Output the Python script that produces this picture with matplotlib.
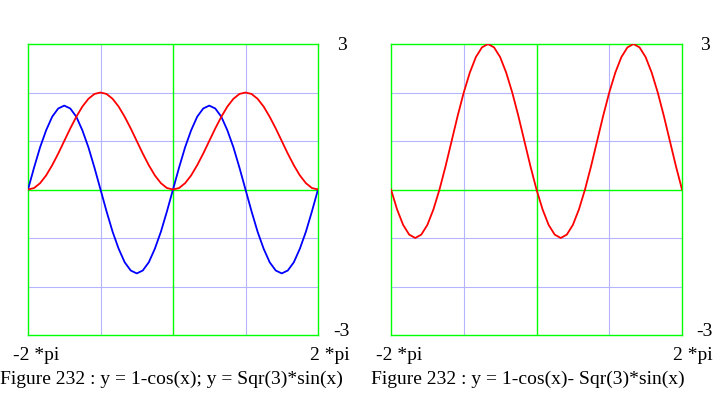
import numpy as np
import matplotlib
matplotlib.use("Agg")
import matplotlib.pyplot as plt

# x positions: -2pi .. 2pi, step pi/12
x_steps = np.arange(-24, 25) / 12.0

# 1-cos(x), values
y_red_left = [0, 0.03, 0.13, 0.29, 0.5, 0.74, 1, 1.26, 1.5, 1.71, 1.87, 1.97,
              2, 1.97, 1.87, 1.71, 1.5, 1.26, 1, 0.74, 0.5, 0.29, 0.13, 0.03,
              0, 0.03, 0.13, 0.29, 0.5, 0.74, 1, 1.26, 1.5, 1.71, 1.87, 1.97,
              2, 1.97, 1.87, 1.71, 1.5, 1.26, 1, 0.74, 0.5, 0.29, 0.13, 0.03, 0]
# Sqr(3)*sin(x)
y_blue_left = [0, 0.45, 0.87, 1.22, 1.5, 1.67, 1.73, 1.67, 1.5, 1.22, 0.87, 0.45,
               0, -0.45, -0.87, -1.22, -1.5, -1.67, -1.73, -1.67, -1.5, -1.22, -0.87, -0.45,
               0, 0.45, 0.87, 1.22, 1.5, 1.67, 1.73, 1.67, 1.5, 1.22, 0.87, 0.45,
               0, -0.45, -0.87, -1.22, -1.5, -1.67, -1.73, -1.67, -1.5, -1.22, -0.87, -0.45, 0]
# 1-cos(x) - Sqr(3)*sin(x)
y_red_right = [0, -0.41, -0.73, -0.93, -1, -0.93, -0.73, -0.41, 0, 0.48, 1, 1.52,
               2, 2.41, 2.73, 2.93, 3, 2.93, 2.73, 2.41, 2, 1.52, 1, 0.48,
               0, -0.41, -0.73, -0.93, -1, -0.93, -0.73, -0.41, 0, 0.48, 1, 1.52,
               2, 2.41, 2.73, 2.93, 3, 2.93, 2.73, 2.41, 2, 1.52, 1, 0.48, 0]

captions = ["Figure 232 : y = 1-cos(x); y = Sqr(3)*sin(x)",
            "Figure 232 : y = 1-cos(x)- Sqr(3)*sin(x)"]

W, H = 718, 397
fig = plt.figure(figsize=(W / 100, H / 100), dpi=100)
plt.rcParams['font.family'] = ['Liberation Serif', 'DejaVu Serif']

GREEN = "#00ff00"
GRID = "#b4b4ff"

def panel(x0, x1):
    ax = fig.add_axes([x0 / W, 1 - 335 / H, (x1 - x0) / W, (335 - 44) / H])
    ax.set_xlim(-2 * np.pi, 2 * np.pi)
    ax.set_ylim(-3, 3)
    for s in ax.spines.values():
        s.set_color(GREEN)
        s.set_linewidth(1.0)
    ax.set_xticks([])
    ax.set_yticks([])
    for gx in [-np.pi, np.pi]:
        ax.axvline(gx, color=GRID, lw=0.8, zorder=1)
    for gy in [-2, -1, 1, 2]:
        ax.axhline(gy, color=GRID, lw=0.8, zorder=1)
    ax.axvline(0, color=GREEN, lw=1.0, zorder=1)
    ax.axhline(0, color=GREEN, lw=1.0, zorder=1)
    return ax

xs = x_steps * np.pi
ax1 = panel(28, 318)
ax1.plot(xs, y_blue_left, color="#0000ff", lw=1.3, zorder=3)
ax1.plot(xs, y_red_left, color="#ff0000", lw=1.3, zorder=3)

ax2 = panel(391, 682)
ax2.plot(xs, y_red_right, color="#ff0000", lw=1.3, zorder=3)

fs = 14
def txt(x, y, s, ha="left"):
    fig.text(x / W, 1 - y / H, s, ha=ha, va="center", fontsize=fs)

for off, cap in zip([0, 363], captions):
    txt(342 + off, 46, "3", ha="center")
    txt(341 + off, 331, "-3", ha="center")
    txt(13 + off, 355, "-2 *pi")
    txt(350 + off, 355, "2 *pi", ha="right")
txt(0, 379, captions[0])
txt(371, 379, captions[1])

fig.savefig("out.png", dpi=100)
